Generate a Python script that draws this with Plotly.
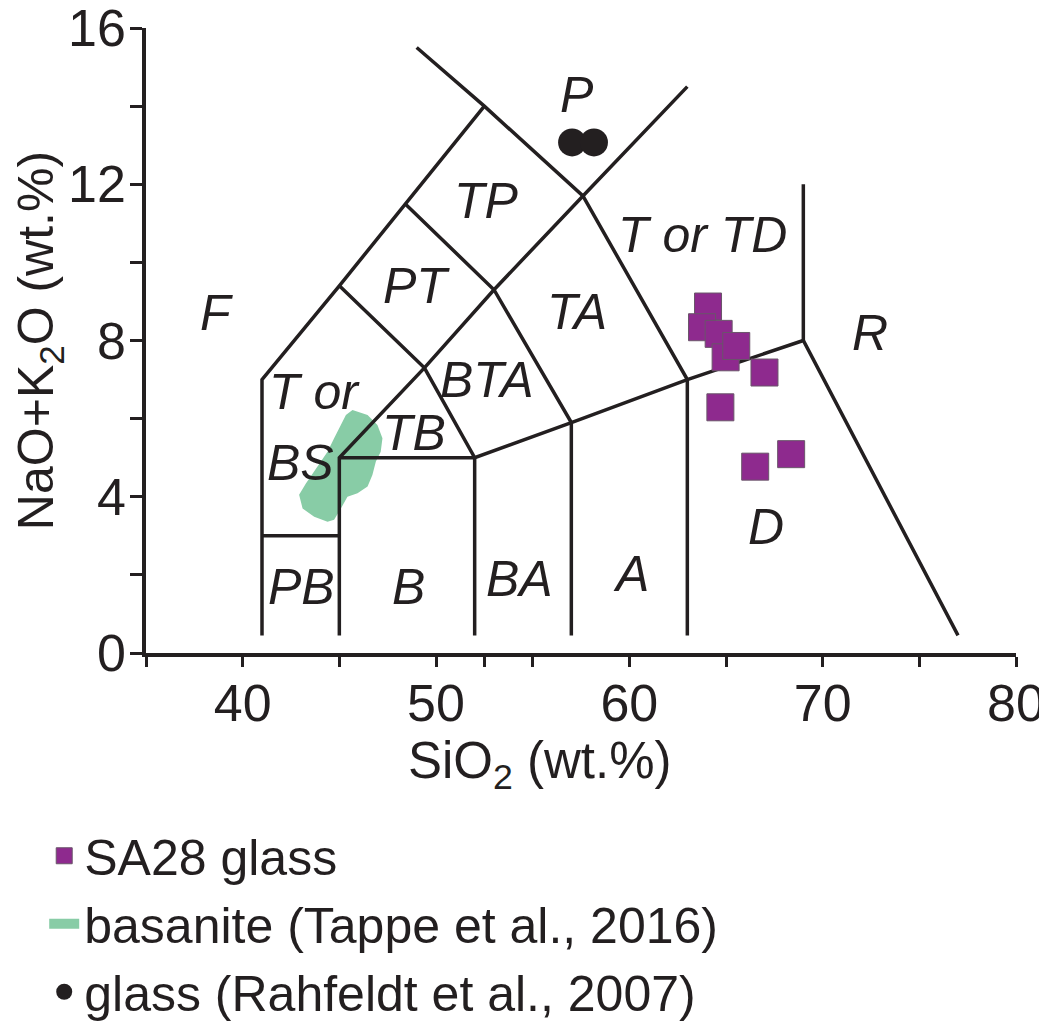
import plotly.graph_objects as go

# SA28 glass analyses (SiO2, Na2O+K2O)
sa28_sio2 = [64.07, 63.76, 64.62, 64.98, 65.53, 66.99, 64.71, 66.51, 68.37]
sa28_alk = [8.87, 8.34, 8.17, 7.57, 7.86, 7.18, 6.29, 4.77, 5.09]

# glass from Rahfeldt et al. 2007
rah_sio2 = [57.04, 58.17]
rah_alk = [13.07, 13.07]

# outline of the basanite field (Tappe et al. 2016)
bas_sio2 = [45.68, 46.46, 46.97, 47.23, 47.14, 46.89, 46.71, 46.46, 45.94, 45.42,
            45.08, 44.73, 44.39, 43.70, 43.10, 42.92, 43.27, 43.87, 44.39, 44.73,
            45.08, 45.34, 45.68]
bas_alk = [6.22, 6.09, 5.84, 5.50, 5.15, 4.90, 4.56, 4.26, 4.09, 4.00,
           3.70, 3.41, 3.36, 3.49, 3.70, 4.05, 4.34, 4.77, 5.15, 5.50,
           5.84, 6.09, 6.22]

# TAS field boundaries
line1_x = [41, 41, 45, 48.4, 52.5]
line1_y = [0.45, 7, 9.4, 11.5, 14]
line2_x = [49, 52.5, 57.6, 63, 63]
line2_y = [15.5, 14, 11.7, 7, 0.45]
line3_x = [45, 49.4, 52, 52]
line3_y = [9.4, 7.3, 5, 0.45]
line4_x = [48.4, 53, 57, 57]
line4_y = [11.5, 9.3, 5.9, 0.45]
line5_x = [45, 45, 49.4, 53, 57.6, 63]
line5_y = [0.45, 5, 7.3, 9.3, 11.7, 14.5]
line6_x = [41, 45]
line6_y = [3, 3]
line7_x = [45, 52, 57, 63, 69, 77]
line7_y = [5, 5, 5.9, 7, 8, 0.45]
line8_x = [69, 69]
line8_y = [8, 12]

# field names
field_names = ['F', 'TP', 'PT', 'P', 'T or TD', 'TA', 'R', 'T or', 'BS', 'TB',
               'BTA', 'PB', 'B', 'BA', 'A', 'D']
field_x = [38.66, 52.61, 48.99, 57.3, 63.8, 57.3, 72.45, 43.74, 43.01, 48.86,
           52.65, 43.05, 48.6, 54.33, 60.1, 67.09]
field_y = [8.7, 11.58, 9.4, 14.29, 10.7, 8.74, 8.19, 6.67, 4.86, 5.62,
           6.99, 1.7, 1.7, 1.89, 2.02, 3.23]

xtick_vals = [35, 40, 45, 50, 52.5, 55, 60, 65, 70, 75, 80]
xtick_text = ['', '40', '', '50', '', '', '60', '', '70', '', '80']
ytick_vals = [0, 2, 4, 6, 8, 10, 12, 14, 16]
ytick_text = ['0', '', '4', '', '8', '', '12', '', '16']

INK = '#231F20'
PURPLE = '#8E2A8E'
GREEN = '#88CCA6'

fig = go.Figure()

fig.add_trace(go.Scatter(x=bas_sio2, y=bas_alk, mode='lines', fill='toself',
                         fillcolor=GREEN, line=dict(width=0, color=GREEN),
                         showlegend=False, hoverinfo='skip'))
# legend entry for the basanite field
fig.add_trace(go.Scatter(x=[None], y=[None], mode='lines',
                         line=dict(width=10, color=GREEN),
                         name='basanite (Tappe et al., 2016)', legendrank=2))

for lx, ly in [(line1_x, line1_y), (line2_x, line2_y), (line3_x, line3_y),
               (line4_x, line4_y), (line5_x, line5_y), (line6_x, line6_y),
               (line7_x, line7_y), (line8_x, line8_y)]:
    fig.add_trace(go.Scatter(x=lx, y=ly, mode='lines',
                             line=dict(color=INK, width=3.5),
                             showlegend=False, hoverinfo='skip'))

fig.add_trace(go.Scatter(x=sa28_sio2, y=sa28_alk, mode='markers',
                         marker=dict(symbol='square', size=27, color=PURPLE,
                                     line=dict(width=1, color='#6A556A')),
                         name='SA28 glass', legendrank=1))

fig.add_trace(go.Scatter(x=rah_sio2, y=rah_alk, mode='markers',
                         marker=dict(symbol='circle', size=28, color=INK),
                         name='glass (Rahfeldt et al., 2007)', legendrank=3))

for name, fx, fy in zip(field_names, field_x, field_y):
    fig.add_annotation(x=fx, y=fy, text=name, showarrow=False,
                       font=dict(family='Liberation Sans, Arial',
                                 size=50, style='italic', color=INK))

# x-axis title sits left of the plot centre in the original
fig.add_annotation(x=0.453, y=-0.178, xref='paper', yref='paper',
                   text='SiO<sub>2</sub> (wt.%)', showarrow=False,
                   xanchor='center', yanchor='middle',
                   font=dict(size=51, color=INK))

fig.update_xaxes(range=[35, 80], showline=True, linewidth=3.5, linecolor=INK,
                 ticks='outside', ticklen=10, tickwidth=3, tickcolor=INK,
                 tickvals=xtick_vals, ticktext=xtick_text,
                 showgrid=False, zeroline=False,
                 tickfont=dict(size=52), ticklabelstandoff=-8,
                 ticklabeloverflow='allow')
fig.update_yaxes(range=[0, 16], showline=True, linewidth=3.5, linecolor=INK,
                 ticks='outside', ticklen=12, tickwidth=3, tickcolor=INK,
                 tickvals=ytick_vals, ticktext=ytick_text,
                 showgrid=False, zeroline=False,
                 tickfont=dict(size=52), ticklabeloverflow='allow',
                 ticklabelstandoff=-6,
                 title=dict(text='NaO+K<sub>2</sub>O (wt.%)', font=dict(size=50), standoff=30))

# page body adds an 8 px offset, so the figure is 8 px smaller than the window
fig.update_layout(width=1039, height=1019,
                  margin=dict(l=138, r=31, t=20, b=374, autoexpand=False),
                  plot_bgcolor='white', paper_bgcolor='white',
                  font=dict(family='Liberation Sans, Arial', color=INK),
                  legend=dict(x=-0.117, y=-0.262, xanchor='left', yanchor='top',
                              font=dict(size=50), bgcolor='rgba(0,0,0,0)',
                              itemsizing='trace'),
                  showlegend=True)

fig.write_html("out.html")
